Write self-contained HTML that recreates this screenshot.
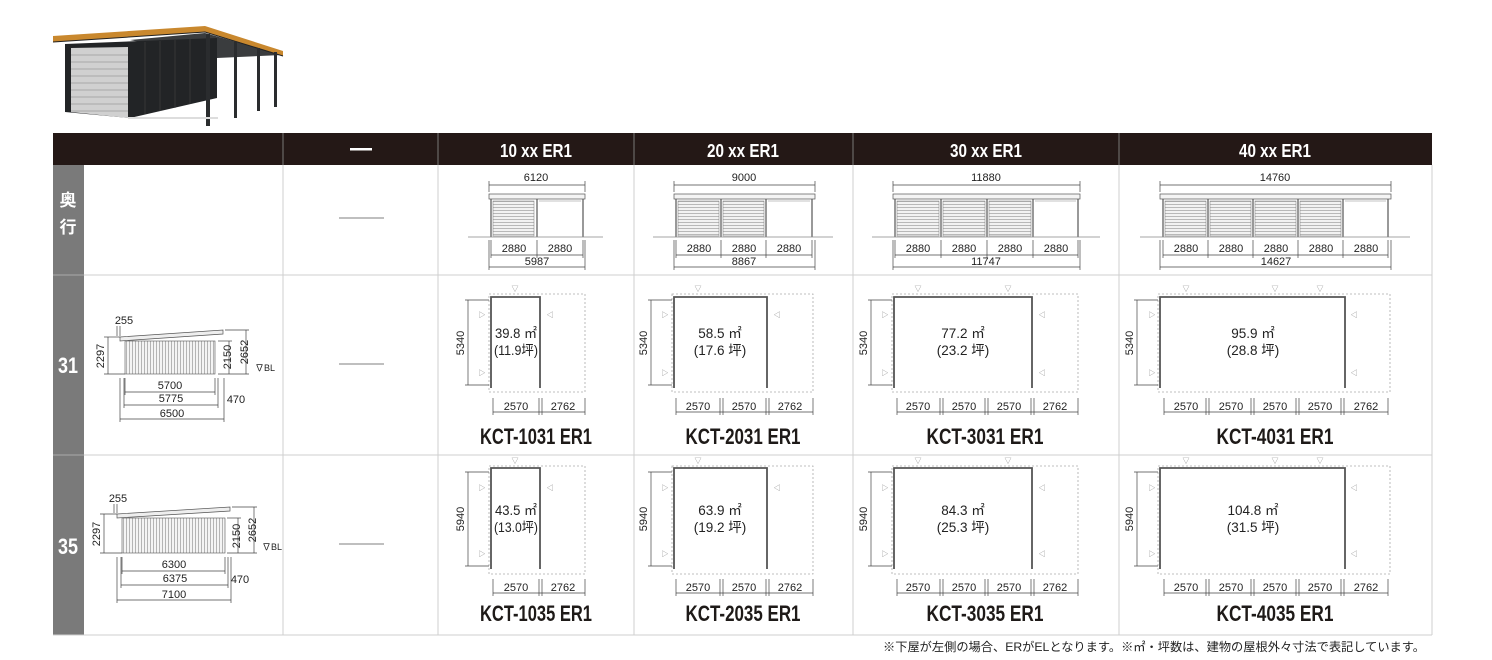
<!DOCTYPE html>
<html><head><meta charset="utf-8"><style>
html,body{margin:0;padding:0;background:#fff;}
svg{display:block;}
text{font-family:"Liberation Sans","Noto Sans CJK JP",sans-serif;}
.d{font-size:11px;fill:#222;text-anchor:middle;}
.a{font-size:13.5px;fill:#222;text-anchor:middle;}
.m{font-size:22px;font-weight:bold;fill:#1e1a18;text-anchor:middle;}
.h{font-size:18px;font-weight:bold;fill:#fff;text-anchor:middle;}
.t{font-size:7px;fill:#888;text-anchor:middle;}
.ln{stroke:#444;stroke-width:0.7;fill:none;}
.ds{stroke:#aaa;stroke-width:0.8;stroke-dasharray:2,2;fill:none;}
.w{stroke:#555;stroke-width:1.8;fill:none;}
</style></head><body>
<svg width="1492" height="660" viewBox="0 0 1492 660" xmlns="http://www.w3.org/2000/svg">
<defs>
<pattern id="sh" width="4" height="3" patternUnits="userSpaceOnUse"><rect width="4" height="3" fill="#f2f2f2"/><line x1="0" y1="0.5" x2="4" y2="0.5" stroke="#aaa" stroke-width="0.8"/></pattern>
<pattern id="vs" width="3" height="4" patternUnits="userSpaceOnUse"><rect width="3" height="4" fill="#f4f4f4"/><line x1="0.5" y1="0" x2="0.5" y2="4" stroke="#999" stroke-width="0.7"/></pattern>
</defs>

<!-- building illustration -->
<polygon points="130,40 205,33 282,55 217,58" fill="#3a3c3e"/>
<polygon points="65,44 217,38 217,98 130,118 65,112" fill="#222426"/>
<polygon points="71,48 128,47 128,118 71,112" fill="#d0d0d0"/>
<g stroke="#9a9a9a" stroke-width="0.8">
<line x1="71" y1="55" x2="128" y2="55"/><line x1="71" y1="62" x2="128" y2="62"/><line x1="71" y1="69" x2="128" y2="69"/><line x1="71" y1="76" x2="128" y2="76"/><line x1="71" y1="83" x2="128" y2="83"/><line x1="71" y1="90" x2="128" y2="90"/><line x1="71" y1="97" x2="128" y2="97"/><line x1="71" y1="104" x2="128" y2="104"/><line x1="71" y1="111" x2="128" y2="111"/></g>
<g stroke="#444" stroke-width="0.6"><line x1="145" y1="42" x2="145" y2="114"/><line x1="160" y1="41" x2="160" y2="111"/><line x1="175" y1="40" x2="175" y2="108"/><line x1="190" y1="39" x2="190" y2="104"/></g>
<polygon points="53,36 205,26 283,51 283,56 205,32 53,42" fill="#c9882e"/>
<polyline points="53,42 205,32 283,56" stroke="#222" stroke-width="1" fill="none"/>
<g fill="#2a2c2e"><rect x="206" y="34" width="4" height="92"/><rect x="234" y="42" width="3" height="76"/><rect x="257" y="48" width="3" height="63"/><rect x="274" y="52" width="3" height="55"/></g>
<rect x="128" y="117" width="90" height="2" fill="#ddd"/>

<!-- table header -->
<rect x="53" y="133" width="1379" height="32" fill="#241816"/>
<g stroke="#777" stroke-width="1"><line x1="283" y1="133" x2="283" y2="165"/><line x1="438" y1="133" x2="438" y2="165"/><line x1="634" y1="133" x2="634" y2="165"/><line x1="853" y1="133" x2="853" y2="165"/><line x1="1119" y1="133" x2="1119" y2="165"/></g>
<rect x="350" y="148" width="22" height="2.5" fill="#fff"/>
<text class="h" x="536" y="157" textLength="72" lengthAdjust="spacingAndGlyphs">10 xx ER1</text>
<text class="h" x="743" y="157" textLength="72" lengthAdjust="spacingAndGlyphs">20 xx ER1</text>
<text class="h" x="986" y="157" textLength="72" lengthAdjust="spacingAndGlyphs">30 xx ER1</text>
<text class="h" x="1275" y="157" textLength="72" lengthAdjust="spacingAndGlyphs">40 xx ER1</text>

<!-- left column -->
<rect x="53" y="165" width="31" height="470" fill="#7a7a7a"/>
<line x1="53" y1="275" x2="84" y2="275" stroke="#aaa"/><line x1="53" y1="455" x2="84" y2="455" stroke="#aaa"/>
<text x="68" y="206" fill="#fff" font-size="17" font-weight="bold" text-anchor="middle">奥</text>
<text x="68" y="233" fill="#fff" font-size="17" font-weight="bold" text-anchor="middle">行</text>
<text x="68" y="373" fill="#fff" font-size="22" font-weight="bold" text-anchor="middle" textLength="20" lengthAdjust="spacingAndGlyphs">31</text>
<text x="68" y="554" fill="#fff" font-size="22" font-weight="bold" text-anchor="middle" textLength="20" lengthAdjust="spacingAndGlyphs">35</text>

<!-- grid -->
<g stroke="#cfcfcf" stroke-width="1">
<line x1="84" y1="275" x2="1432" y2="275"/><line x1="84" y1="455" x2="1432" y2="455"/><line x1="53" y1="635" x2="1432" y2="635"/>
<line x1="283" y1="165" x2="283" y2="635"/><line x1="438" y1="165" x2="438" y2="635"/><line x1="634" y1="165" x2="634" y2="635"/><line x1="853" y1="165" x2="853" y2="635"/><line x1="1119" y1="165" x2="1119" y2="635"/><line x1="1432" y1="165" x2="1432" y2="635"/>
</g>
<g stroke="#555" stroke-width="0.8"><line x1="339" y1="218" x2="384" y2="218"/><line x1="339" y1="364" x2="384" y2="364"/><line x1="339" y1="544" x2="384" y2="544"/></g>

<!-- side elevation row 31 -->
<polygon points="120,337 223,330 223,334 120,341" fill="#eee" stroke="#555" stroke-width="0.7"/>
<rect x="125" y="341" width="90" height="33" fill="url(#vs)" stroke="#555" stroke-width="0.6"/>
<g class="ln">
<line x1="117" y1="326" x2="117" y2="336"/><line x1="120" y1="326" x2="120" y2="336"/>
<line x1="108" y1="337" x2="108" y2="374"/><line x1="104" y1="337" x2="120" y2="337"/><line x1="104" y1="374" x2="125" y2="374"/>
<line x1="229" y1="341" x2="229" y2="374"/><line x1="218" y1="341" x2="232" y2="341"/>
<line x1="246" y1="330" x2="246" y2="374"/><line x1="225" y1="330" x2="249" y2="330"/><line x1="218" y1="374" x2="249" y2="374"/>
<line x1="125" y1="392" x2="215" y2="392"/><line x1="124" y1="405" x2="218" y2="405"/><line x1="120" y1="419" x2="224" y2="419"/>
<line x1="125" y1="378" x2="125" y2="395"/><line x1="215" y1="378" x2="215" y2="395"/><line x1="124" y1="378" x2="124" y2="408"/><line x1="218" y1="378" x2="218" y2="408"/><line x1="120" y1="378" x2="120" y2="422"/><line x1="224" y1="378" x2="224" y2="422"/>
</g>
<text class="d" x="124" y="324">255</text>
<text class="d" transform="translate(104,356) rotate(-90)">2297</text>
<text class="d" transform="translate(231,357) rotate(-90)">2150</text>
<text class="d" transform="translate(248,352) rotate(-90)">2652</text>
<text x="255" y="371" font-size="9" fill="#222">∇BL</text>
<text class="d" x="170" y="389">5700</text>
<text class="d" x="171" y="402">5775</text>
<text class="d" x="236" y="403">470</text>
<text class="d" x="172" y="417">6500</text>

<!-- side elevation row 35 -->
<polygon points="117,514 230,507 230,511 117,518" fill="#eee" stroke="#555" stroke-width="0.7"/>
<rect x="122" y="518" width="103" height="35" fill="url(#vs)" stroke="#555" stroke-width="0.6"/>
<g class="ln">
<line x1="114" y1="504" x2="114" y2="513"/><line x1="117" y1="504" x2="117" y2="513"/>
<line x1="104" y1="514" x2="104" y2="553"/><line x1="100" y1="514" x2="117" y2="514"/><line x1="100" y1="553" x2="122" y2="553"/>
<line x1="238" y1="518" x2="238" y2="553"/><line x1="227" y1="518" x2="241" y2="518"/>
<line x1="254" y1="507" x2="254" y2="553"/><line x1="232" y1="507" x2="257" y2="507"/><line x1="227" y1="553" x2="257" y2="553"/>
<line x1="122" y1="571" x2="225" y2="571"/><line x1="121" y1="585" x2="228" y2="585"/><line x1="117" y1="600" x2="231" y2="600"/>
<line x1="122" y1="557" x2="122" y2="574"/><line x1="225" y1="557" x2="225" y2="574"/><line x1="121" y1="557" x2="121" y2="588"/><line x1="228" y1="557" x2="228" y2="588"/><line x1="117" y1="557" x2="117" y2="603"/><line x1="231" y1="557" x2="231" y2="603"/>
</g>
<text class="d" x="118" y="502">255</text>
<text class="d" transform="translate(100,534) rotate(-90)">2297</text>
<text class="d" transform="translate(240,536) rotate(-90)">2150</text>
<text class="d" transform="translate(256,530) rotate(-90)">2652</text>
<text x="262" y="550" font-size="9" fill="#222">∇BL</text>
<text class="d" x="174" y="568">6300</text>
<text class="d" x="175" y="582">6375</text>
<text class="d" x="240" y="583">470</text>
<text class="d" x="174" y="598">7100</text>

<!-- ===== Elevations row 奥行 ===== -->
<g>
<line class="ln" x1="489" y1="185" x2="585" y2="185"/><line class="ln" x1="489" y1="181" x2="489" y2="192"/><line class="ln" x1="585" y1="181" x2="585" y2="192"/>
<rect x="489" y="194" width="96" height="5" fill="#f4f4f4" stroke="#555" stroke-width="0.7"/>
<rect x="493" y="201" width="41" height="35" fill="url(#sh)" stroke="#777" stroke-width="0.5"/>
<g stroke="#555" stroke-width="1.2"><line x1="491" y1="199" x2="491" y2="237"/><line x1="537" y1="199" x2="537" y2="237"/><line x1="583" y1="199" x2="583" y2="237"/></g>
<line x1="539" y1="201" x2="581" y2="201" stroke="#888" stroke-width="0.6"/>
<line x1="468" y1="237" x2="603" y2="237" stroke="#888" stroke-width="0.8"/>
<line class="ln" x1="491" y1="255" x2="583" y2="255"/><line class="ln" x1="489" y1="267" x2="585" y2="267"/>
<g class="ln"><line x1="491" y1="240" x2="491" y2="258"/><line x1="537" y1="240" x2="537" y2="258"/><line x1="583" y1="240" x2="583" y2="258"/><line x1="489" y1="240" x2="489" y2="270"/><line x1="585" y1="240" x2="585" y2="270"/></g>
<text class="d" x="536" y="181">6120</text>
<text class="d" x="514" y="252">2880</text><text class="d" x="560" y="252">2880</text>
<text class="d" x="537" y="265">5987</text>
</g>
<g>
<line class="ln" x1="674" y1="185" x2="815" y2="185"/><line class="ln" x1="674" y1="181" x2="674" y2="192"/><line class="ln" x1="815" y1="181" x2="815" y2="192"/>
<rect x="674" y="194" width="141" height="5" fill="#f4f4f4" stroke="#555" stroke-width="0.7"/>
<rect x="678" y="201" width="41" height="35" fill="url(#sh)" stroke="#777" stroke-width="0.5"/>
<rect x="723" y="201" width="41" height="35" fill="url(#sh)" stroke="#777" stroke-width="0.5"/>
<g stroke="#555" stroke-width="1.2"><line x1="676" y1="199" x2="676" y2="237"/><line x1="721" y1="199" x2="721" y2="237"/><line x1="766" y1="199" x2="766" y2="237"/><line x1="812" y1="199" x2="812" y2="237"/></g>
<line x1="768" y1="201" x2="810" y2="201" stroke="#888" stroke-width="0.6"/>
<line x1="653" y1="237" x2="833" y2="237" stroke="#888" stroke-width="0.8"/>
<line class="ln" x1="676" y1="255" x2="812" y2="255"/><line class="ln" x1="674" y1="267" x2="815" y2="267"/>
<g class="ln"><line x1="676" y1="240" x2="676" y2="258"/><line x1="721" y1="240" x2="721" y2="258"/><line x1="766" y1="240" x2="766" y2="258"/><line x1="812" y1="240" x2="812" y2="258"/><line x1="674" y1="240" x2="674" y2="270"/><line x1="815" y1="240" x2="815" y2="270"/></g>
<text class="d" x="744" y="181">9000</text>
<text class="d" x="699" y="252">2880</text><text class="d" x="744" y="252">2880</text><text class="d" x="789" y="252">2880</text>
<text class="d" x="744" y="265">8867</text>
</g>
<g>
<line class="ln" x1="893" y1="185" x2="1080" y2="185"/><line class="ln" x1="893" y1="181" x2="893" y2="192"/><line class="ln" x1="1080" y1="181" x2="1080" y2="192"/>
<rect x="893" y="194" width="187" height="5" fill="#f4f4f4" stroke="#555" stroke-width="0.7"/>
<rect x="897" y="201" width="42" height="35" fill="url(#sh)" stroke="#777" stroke-width="0.5"/>
<rect x="943" y="201" width="42" height="35" fill="url(#sh)" stroke="#777" stroke-width="0.5"/>
<rect x="989" y="201" width="42" height="35" fill="url(#sh)" stroke="#777" stroke-width="0.5"/>
<g stroke="#555" stroke-width="1.2"><line x1="895" y1="199" x2="895" y2="237"/><line x1="941" y1="199" x2="941" y2="237"/><line x1="987" y1="199" x2="987" y2="237"/><line x1="1033" y1="199" x2="1033" y2="237"/><line x1="1078" y1="199" x2="1078" y2="237"/></g>
<line x1="1035" y1="201" x2="1076" y2="201" stroke="#888" stroke-width="0.6"/>
<line x1="872" y1="237" x2="1100" y2="237" stroke="#888" stroke-width="0.8"/>
<line class="ln" x1="895" y1="255" x2="1078" y2="255"/><line class="ln" x1="893" y1="267" x2="1080" y2="267"/>
<g class="ln"><line x1="895" y1="240" x2="895" y2="258"/><line x1="941" y1="240" x2="941" y2="258"/><line x1="987" y1="240" x2="987" y2="258"/><line x1="1033" y1="240" x2="1033" y2="258"/><line x1="1078" y1="240" x2="1078" y2="258"/><line x1="893" y1="240" x2="893" y2="270"/><line x1="1080" y1="240" x2="1080" y2="270"/></g>
<text class="d" x="986" y="181">11880</text>
<text class="d" x="918" y="252">2880</text><text class="d" x="964" y="252">2880</text><text class="d" x="1010" y="252">2880</text><text class="d" x="1056" y="252">2880</text>
<text class="d" x="986" y="265">11747</text>
</g>
<g>
<line class="ln" x1="1160" y1="185" x2="1391" y2="185"/><line class="ln" x1="1160" y1="181" x2="1160" y2="192"/><line class="ln" x1="1391" y1="181" x2="1391" y2="192"/>
<rect x="1160" y="194" width="231" height="5" fill="#f4f4f4" stroke="#555" stroke-width="0.7"/>
<rect x="1165" y="201" width="41" height="35" fill="url(#sh)" stroke="#777" stroke-width="0.5"/>
<rect x="1210" y="201" width="41" height="35" fill="url(#sh)" stroke="#777" stroke-width="0.5"/>
<rect x="1255" y="201" width="41" height="35" fill="url(#sh)" stroke="#777" stroke-width="0.5"/>
<rect x="1300" y="201" width="41" height="35" fill="url(#sh)" stroke="#777" stroke-width="0.5"/>
<g stroke="#555" stroke-width="1.2"><line x1="1163" y1="199" x2="1163" y2="237"/><line x1="1208" y1="199" x2="1208" y2="237"/><line x1="1253" y1="199" x2="1253" y2="237"/><line x1="1298" y1="199" x2="1298" y2="237"/><line x1="1343" y1="199" x2="1343" y2="237"/><line x1="1388" y1="199" x2="1388" y2="237"/></g>
<line x1="1345" y1="201" x2="1386" y2="201" stroke="#888" stroke-width="0.6"/>
<line x1="1140" y1="237" x2="1410" y2="237" stroke="#888" stroke-width="0.8"/>
<line class="ln" x1="1163" y1="255" x2="1388" y2="255"/><line class="ln" x1="1160" y1="267" x2="1391" y2="267"/>
<g class="ln"><line x1="1163" y1="240" x2="1163" y2="258"/><line x1="1208" y1="240" x2="1208" y2="258"/><line x1="1253" y1="240" x2="1253" y2="258"/><line x1="1298" y1="240" x2="1298" y2="258"/><line x1="1343" y1="240" x2="1343" y2="258"/><line x1="1388" y1="240" x2="1388" y2="258"/><line x1="1160" y1="240" x2="1160" y2="270"/><line x1="1391" y1="240" x2="1391" y2="270"/></g>
<text class="d" x="1275" y="181">14760</text>
<text class="d" x="1186" y="252">2880</text><text class="d" x="1231" y="252">2880</text><text class="d" x="1276" y="252">2880</text><text class="d" x="1321" y="252">2880</text><text class="d" x="1366" y="252">2880</text>
<text class="d" x="1276" y="265">14627</text>
</g>

<!-- ===== Plans row 31 ===== -->
<rect class="ds" x="489" y="294" width="96" height="98"/>
<polyline class="w" points="491,388 491,297 540,297 540,388"/>
<line class="ln" x1="468" y1="300" x2="468" y2="385"/><line class="ln" x1="465" y1="300" x2="489" y2="300"/><line class="ln" x1="465" y1="385" x2="489" y2="385"/>
<text class="d" transform="translate(464,343) rotate(-90)">5340</text>
<text class="a" x="516" y="338" textLength="42" lengthAdjust="spacingAndGlyphs">39.8 ㎡</text><text class="a" x="516" y="355" textLength="44" lengthAdjust="spacingAndGlyphs">(11.9坪)</text>
<text class="t" x="515" y="291">▽</text><text class="t" x="482" y="317">▷</text><text class="t" x="550" y="317">◁</text><text class="t" x="482" y="375">▷</text>
<line class="ln" x1="493" y1="412" x2="585" y2="412"/><g class="ln"><line x1="493" y1="398" x2="493" y2="415"/><line x1="539" y1="398" x2="539" y2="415"/><line x1="542" y1="398" x2="542" y2="415"/><line x1="585" y1="398" x2="585" y2="415"/></g>
<text class="d" x="516" y="410">2570</text><text class="d" x="563" y="410">2762</text>
<text class="m" x="536" y="444" textLength="112" lengthAdjust="spacingAndGlyphs">KCT-1031 ER1</text>

<rect class="ds" x="672" y="294" width="141" height="98"/>
<polyline class="w" points="674,388 674,297 767,297 767,388"/>
<line class="ln" x1="651" y1="300" x2="651" y2="385"/><line class="ln" x1="648" y1="300" x2="672" y2="300"/><line class="ln" x1="648" y1="385" x2="672" y2="385"/>
<text class="d" transform="translate(647,343) rotate(-90)">5340</text>
<text class="a" x="720" y="338">58.5 ㎡</text><text class="a" x="720" y="355">(17.6 坪)</text>
<text class="t" x="698" y="291">▽</text><text class="t" x="665" y="317">▷</text><text class="t" x="777" y="317">◁</text><text class="t" x="665" y="375">▷</text>
<line class="ln" x1="676" y1="412" x2="813" y2="412"/><g class="ln"><line x1="676" y1="398" x2="676" y2="415"/><line x1="720" y1="398" x2="720" y2="415"/><line x1="723" y1="398" x2="723" y2="415"/><line x1="766" y1="398" x2="766" y2="415"/><line x1="769" y1="398" x2="769" y2="415"/><line x1="813" y1="398" x2="813" y2="415"/></g>
<text class="d" x="698" y="410">2570</text><text class="d" x="744" y="410">2570</text><text class="d" x="790" y="410">2762</text>
<text class="m" x="743" y="444" textLength="115" lengthAdjust="spacingAndGlyphs">KCT-2031 ER1</text>

<rect class="ds" x="892" y="294" width="186" height="98"/>
<polyline class="w" points="894,388 894,297 1032,297 1032,388"/>
<line class="ln" x1="871" y1="300" x2="871" y2="385"/><line class="ln" x1="868" y1="300" x2="892" y2="300"/><line class="ln" x1="868" y1="385" x2="892" y2="385"/>
<text class="d" transform="translate(867,343) rotate(-90)">5340</text>
<text class="a" x="963" y="338">77.2 ㎡</text><text class="a" x="963" y="355">(23.2 坪)</text>
<text class="t" x="918" y="291">▽</text><text class="t" x="1008" y="291">▽</text><text class="t" x="885" y="317">▷</text><text class="t" x="1042" y="317">◁</text><text class="t" x="885" y="375">▷</text><text class="t" x="1042" y="375">◁</text>
<line class="ln" x1="897" y1="412" x2="1078" y2="412"/><g class="ln"><line x1="897" y1="398" x2="897" y2="415"/><line x1="940" y1="398" x2="940" y2="415"/><line x1="943" y1="398" x2="943" y2="415"/><line x1="985" y1="398" x2="985" y2="415"/><line x1="988" y1="398" x2="988" y2="415"/><line x1="1031" y1="398" x2="1031" y2="415"/><line x1="1034" y1="398" x2="1034" y2="415"/><line x1="1078" y1="398" x2="1078" y2="415"/></g>
<text class="d" x="918" y="410">2570</text><text class="d" x="964" y="410">2570</text><text class="d" x="1009" y="410">2570</text><text class="d" x="1055" y="410">2762</text>
<text class="m" x="985" y="444" textLength="117" lengthAdjust="spacingAndGlyphs">KCT-3031 ER1</text>

<rect class="ds" x="1158" y="294" width="232" height="98"/>
<polyline class="w" points="1160,388 1160,297 1345,297 1345,388"/>
<line class="ln" x1="1137" y1="300" x2="1137" y2="385"/><line class="ln" x1="1134" y1="300" x2="1158" y2="300"/><line class="ln" x1="1134" y1="385" x2="1158" y2="385"/>
<text class="d" transform="translate(1133,343) rotate(-90)">5340</text>
<text class="a" x="1253" y="338">95.9 ㎡</text><text class="a" x="1253" y="355">(28.8 坪)</text>
<text class="t" x="1186" y="291">▽</text><text class="t" x="1275" y="291">▽</text><text class="t" x="1320" y="291">▽</text><text class="t" x="1152" y="317">▷</text><text class="t" x="1354" y="317">◁</text><text class="t" x="1152" y="375">▷</text><text class="t" x="1354" y="375">◁</text>
<line class="ln" x1="1164" y1="412" x2="1388" y2="412"/><g class="ln"><line x1="1164" y1="398" x2="1164" y2="415"/><line x1="1206" y1="398" x2="1206" y2="415"/><line x1="1209" y1="398" x2="1209" y2="415"/><line x1="1251" y1="398" x2="1251" y2="415"/><line x1="1254" y1="398" x2="1254" y2="415"/><line x1="1296" y1="398" x2="1296" y2="415"/><line x1="1299" y1="398" x2="1299" y2="415"/><line x1="1341" y1="398" x2="1341" y2="415"/><line x1="1344" y1="398" x2="1344" y2="415"/><line x1="1388" y1="398" x2="1388" y2="415"/></g>
<text class="d" x="1186" y="410">2570</text><text class="d" x="1231" y="410">2570</text><text class="d" x="1275" y="410">2570</text><text class="d" x="1320" y="410">2570</text><text class="d" x="1366" y="410">2762</text>
<text class="m" x="1275" y="444" textLength="117" lengthAdjust="spacingAndGlyphs">KCT-4031 ER1</text>

<!-- ===== Plans row 35 ===== -->
<rect class="ds" x="489" y="466" width="96" height="108"/>
<polyline class="w" points="491,569 491,468 540,468 540,569"/>
<line class="ln" x1="468" y1="472" x2="468" y2="566"/><line class="ln" x1="465" y1="472" x2="489" y2="472"/><line class="ln" x1="465" y1="566" x2="489" y2="566"/>
<text class="d" transform="translate(464,519) rotate(-90)">5940</text>
<text class="a" x="516" y="515" textLength="42" lengthAdjust="spacingAndGlyphs">43.5 ㎡</text><text class="a" x="516" y="532" textLength="44" lengthAdjust="spacingAndGlyphs">(13.0坪)</text>
<text class="t" x="515" y="463">▽</text><text class="t" x="482" y="490">▷</text><text class="t" x="550" y="490">◁</text><text class="t" x="482" y="556">▷</text>
<line class="ln" x1="493" y1="593" x2="585" y2="593"/><g class="ln"><line x1="493" y1="579" x2="493" y2="596"/><line x1="539" y1="579" x2="539" y2="596"/><line x1="542" y1="579" x2="542" y2="596"/><line x1="585" y1="579" x2="585" y2="596"/></g>
<text class="d" x="516" y="591">2570</text><text class="d" x="563" y="591">2762</text>
<text class="m" x="536" y="621" textLength="112" lengthAdjust="spacingAndGlyphs">KCT-1035 ER1</text>

<rect class="ds" x="672" y="466" width="141" height="108"/>
<polyline class="w" points="674,569 674,468 767,468 767,569"/>
<line class="ln" x1="651" y1="472" x2="651" y2="566"/><line class="ln" x1="648" y1="472" x2="672" y2="472"/><line class="ln" x1="648" y1="566" x2="672" y2="566"/>
<text class="d" transform="translate(647,519) rotate(-90)">5940</text>
<text class="a" x="720" y="515">63.9 ㎡</text><text class="a" x="720" y="532">(19.2 坪)</text>
<text class="t" x="698" y="463">▽</text><text class="t" x="665" y="490">▷</text><text class="t" x="777" y="490">◁</text><text class="t" x="665" y="556">▷</text>
<line class="ln" x1="676" y1="593" x2="813" y2="593"/><g class="ln"><line x1="676" y1="579" x2="676" y2="596"/><line x1="720" y1="579" x2="720" y2="596"/><line x1="723" y1="579" x2="723" y2="596"/><line x1="766" y1="579" x2="766" y2="596"/><line x1="769" y1="579" x2="769" y2="596"/><line x1="813" y1="579" x2="813" y2="596"/></g>
<text class="d" x="698" y="591">2570</text><text class="d" x="744" y="591">2570</text><text class="d" x="790" y="591">2762</text>
<text class="m" x="743" y="621" textLength="115" lengthAdjust="spacingAndGlyphs">KCT-2035 ER1</text>

<rect class="ds" x="892" y="466" width="186" height="108"/>
<polyline class="w" points="894,569 894,468 1032,468 1032,569"/>
<line class="ln" x1="871" y1="472" x2="871" y2="566"/><line class="ln" x1="868" y1="472" x2="892" y2="472"/><line class="ln" x1="868" y1="566" x2="892" y2="566"/>
<text class="d" transform="translate(867,519) rotate(-90)">5940</text>
<text class="a" x="963" y="515">84.3 ㎡</text><text class="a" x="963" y="532">(25.3 坪)</text>
<text class="t" x="918" y="463">▽</text><text class="t" x="1008" y="463">▽</text><text class="t" x="885" y="490">▷</text><text class="t" x="1042" y="490">◁</text><text class="t" x="885" y="556">▷</text><text class="t" x="1042" y="556">◁</text>
<line class="ln" x1="897" y1="593" x2="1078" y2="593"/><g class="ln"><line x1="897" y1="579" x2="897" y2="596"/><line x1="940" y1="579" x2="940" y2="596"/><line x1="943" y1="579" x2="943" y2="596"/><line x1="985" y1="579" x2="985" y2="596"/><line x1="988" y1="579" x2="988" y2="596"/><line x1="1031" y1="579" x2="1031" y2="596"/><line x1="1034" y1="579" x2="1034" y2="596"/><line x1="1078" y1="579" x2="1078" y2="596"/></g>
<text class="d" x="918" y="591">2570</text><text class="d" x="964" y="591">2570</text><text class="d" x="1009" y="591">2570</text><text class="d" x="1055" y="591">2762</text>
<text class="m" x="985" y="621" textLength="117" lengthAdjust="spacingAndGlyphs">KCT-3035 ER1</text>

<rect class="ds" x="1158" y="466" width="232" height="108"/>
<polyline class="w" points="1160,569 1160,468 1345,468 1345,569"/>
<line class="ln" x1="1137" y1="472" x2="1137" y2="566"/><line class="ln" x1="1134" y1="472" x2="1158" y2="472"/><line class="ln" x1="1134" y1="566" x2="1158" y2="566"/>
<text class="d" transform="translate(1133,519) rotate(-90)">5940</text>
<text class="a" x="1253" y="515">104.8 ㎡</text><text class="a" x="1253" y="532">(31.5 坪)</text>
<text class="t" x="1186" y="463">▽</text><text class="t" x="1275" y="463">▽</text><text class="t" x="1320" y="463">▽</text><text class="t" x="1152" y="490">▷</text><text class="t" x="1354" y="490">◁</text><text class="t" x="1152" y="556">▷</text><text class="t" x="1354" y="556">◁</text>
<line class="ln" x1="1164" y1="593" x2="1388" y2="593"/><g class="ln"><line x1="1164" y1="579" x2="1164" y2="596"/><line x1="1206" y1="579" x2="1206" y2="596"/><line x1="1209" y1="579" x2="1209" y2="596"/><line x1="1251" y1="579" x2="1251" y2="596"/><line x1="1254" y1="579" x2="1254" y2="596"/><line x1="1296" y1="579" x2="1296" y2="596"/><line x1="1299" y1="579" x2="1299" y2="596"/><line x1="1341" y1="579" x2="1341" y2="596"/><line x1="1344" y1="579" x2="1344" y2="596"/><line x1="1388" y1="579" x2="1388" y2="596"/></g>
<text class="d" x="1186" y="591">2570</text><text class="d" x="1231" y="591">2570</text><text class="d" x="1275" y="591">2570</text><text class="d" x="1320" y="591">2570</text><text class="d" x="1366" y="591">2762</text>
<text class="m" x="1275" y="621" textLength="117" lengthAdjust="spacingAndGlyphs">KCT-4035 ER1</text>

<text x="883" y="651" font-size="12" fill="#222" textLength="542" lengthAdjust="spacingAndGlyphs">※下屋が左側の場合、ERがELとなります。※㎡・坪数は、建物の屋根外々寸法で表記しています。</text>
</svg>
</body></html>
